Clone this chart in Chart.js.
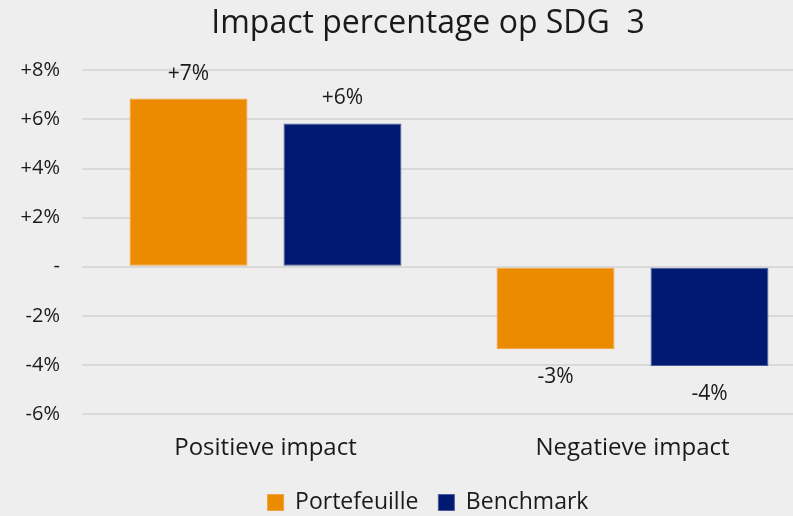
<!DOCTYPE html>
<html>
<head>
<meta charset="utf-8">
<script src="https://cdn.jsdelivr.net/npm/chart.js@4.4.1/dist/chart.umd.min.js"></script>
<style>
    html, body { margin: 0; padding: 0; background: #eeeeee; overflow: hidden; }
    #wrap { width: 856px; height: 524px; }
</style>
</head>
<body>
<div id="wrap"><canvas id="impactChart" width="856" height="524"></canvas></div>
<script>
const categories = ['Positieve impact', 'Negatieve impact'];
const portefeuille = [6.85, -3.36];
const benchmark = [5.84, -4.04];
const shownLabels = { Portefeuille: ['+7%', '-3%'], Benchmark: ['+6%', '-4%'] };

const fontFamily = '"Open Sans", "Noto Sans", sans-serif';
const textColor = '#1a1a1a';

// labels boven/onder de staven
const barLabels = {
    id: 'barLabels',
    afterDatasetsDraw(chart) {
        const ctx = chart.ctx;
        ctx.save();
        ctx.font = '400 21px ' + fontFamily;
        ctx.fillStyle = textColor;
        ctx.textAlign = 'center';
        ctx.textBaseline = 'middle';
        chart.data.datasets.forEach((ds, i) => {
            chart.getDatasetMeta(i).data.forEach((bar, j) => {
                const v = ds.data[j];
                const y = v >= 0 ? bar.y - 25 : bar.y + 28;
                ctx.fillText(shownLabels[ds.label][j], bar.x, y);
            });
        });
        ctx.restore();
    }
};

const ctx = document.getElementById('impactChart').getContext('2d');
new Chart(ctx, {
    type: 'bar',
    data: {
        labels: categories,
        datasets: [
            {
                label: 'Portefeuille',
                data: portefeuille,
                backgroundColor: '#ED8B00',
                borderColor: '#F2A23A',
                borderWidth: 1,
                borderSkipped: false
            },
            {
                label: 'Benchmark',
                data: benchmark,
                backgroundColor: '#001A72',
                borderColor: '#4A5A9A',
                borderWidth: 1,
                borderSkipped: false
            }
        ]
    },
    options: {
        responsive: false,
        animation: false,
        devicePixelRatio: 1,
        categoryPercentage: 0.839,
        barPercentage: 0.766,
        layout: { padding: 0 },
        scales: {
            x: {
                grid: { display: false },
                border: { display: false },
                ticks: { color: textColor, font: { family: fontFamily, size: 24, weight: '400' }, padding: 12 },
                afterFit: s => { s.height = 57; }
            },
            y: {
                min: -6, max: 8,
                ticks: {
                    stepSize: 2,
                    color: textColor,
                    padding: 22,
                    font: { family: fontFamily, size: 20, weight: '400' },
                    callback: v => v === 0 ? '-' : (v > 0 ? '+' : '') + v + '%'
                },
                grid: { color: '#d9d9d9', lineWidth: 2, drawTicks: false },
                border: { display: false },
                afterFit: s => { s.width = 82; }
            },
            // lege as rechts, houdt de plot smaller dan het canvas
            yRight: {
                position: 'right',
                display: true,
                ticks: { display: false },
                grid: { display: false },
                border: { display: false },
                afterFit: s => { s.width = 40; }
            }
        },
        plugins: {
            title: {
                display: true,
                text: 'Impact percentage op SDG  3',
                color: textColor,
                font: { family: fontFamily, size: 32, weight: '400' },
                padding: { top: 5, bottom: 27 }
            },
            legend: {
                position: 'bottom',
                labels: {
                    color: textColor,
                    font: { family: fontFamily, size: 23, weight: '400' },
                    boxWidth: 16,
                    boxHeight: 16,
                    padding: 20
                }
            },
            tooltip: { enabled: false }
        }
    },
    plugins: [barLabels]
});
</script>
</body>
</html>
